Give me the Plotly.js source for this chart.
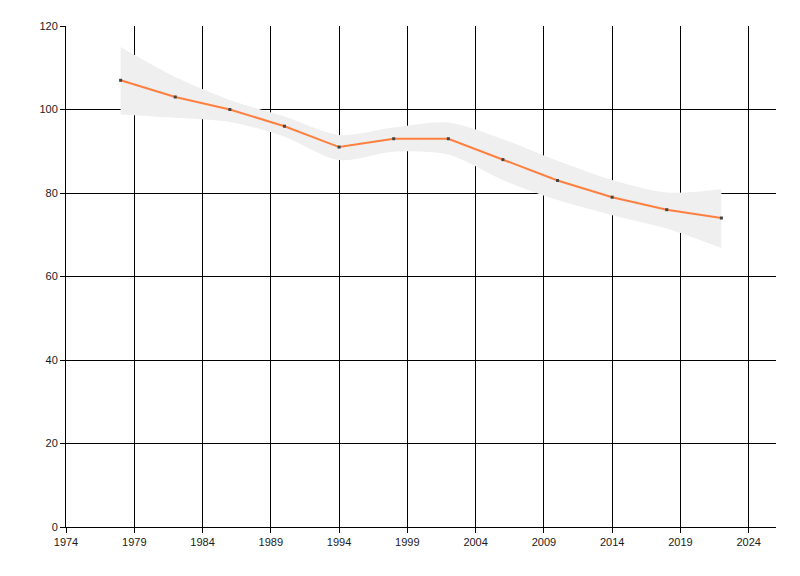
<!DOCTYPE html>
<html>
<head>
<meta charset="utf-8">
<script src="https://cdn.plot.ly/plotly-3.0.1.min.js"></script>
<style>
  html, body { margin: 0; padding: 0; background: #fff; }
  #chart { width: 800px; height: 576px; }
</style>
</head>
<body>
<div id="chart"></div>
<script>
// values
var years = [1978, 1982, 1986, 1990, 1994, 1998, 2002, 2006, 2010, 2014, 2018, 2022];
var values = [107, 103, 100, 96, 91, 93, 93, 88, 83, 79, 76, 74];
var upper = [115, 107.8, 102.3, 98.3, 93.9, 95.7, 96.9, 92.9, 87.7, 83.1, 80.1, 80.9];
var lower = [98.8, 98, 97, 93.5, 87.9, 89.9, 89.2, 83.1, 78.3, 74.7, 71.5, 66.8];

var bandColor = '#efefef';

var traces = [
  {
    x: years, y: lower, type: 'scatter', mode: 'lines',
    line: {width: 0, shape: 'spline', smoothing: 0.8, color: bandColor},
    hoverinfo: 'skip', showlegend: false
  },
  {
    x: years, y: upper, type: 'scatter', mode: 'lines',
    line: {width: 0, shape: 'spline', smoothing: 0.8, color: bandColor},
    fill: 'tonexty', fillcolor: bandColor,
    hoverinfo: 'skip', showlegend: false
  },
  {
    x: years, y: values, type: 'scatter', mode: 'lines+markers',
    line: {width: 2, color: '#ff7f3f'},
    marker: {symbol: 'square', size: 3, color: '#444444'},
    showlegend: false
  }
];

var axisFont = {family: 'Arial, "Liberation Sans", sans-serif', size: 11, color: '#1a1a1a'};

var layout = {
  width: 800, height: 576,
  margin: {l: 66, r: 24, t: 26, b: 49},
  paper_bgcolor: '#ffffff', plot_bgcolor: '#ffffff',
  showlegend: false,
  xaxis: {
    range: [1974, 2026], tick0: 1974, dtick: 5,
    showgrid: true, gridcolor: '#000000', gridwidth: 1,
    zeroline: false, showline: true, linecolor: '#000000', linewidth: 1,
    ticks: 'outside', ticklen: 5, tickcolor: '#000000',
    tickfont: axisFont, fixedrange: true
  },
  yaxis: {
    range: [0, 120], tick0: 0, dtick: 20,
    showgrid: true, gridcolor: '#000000', gridwidth: 1,
    zeroline: false, showline: true, linecolor: '#000000', linewidth: 1,
    ticks: 'outside', ticklen: 5, tickcolor: '#000000',
    tickfont: axisFont, fixedrange: true
  }
};

Plotly.newPlot('chart', traces, layout, {displayModeBar: false, staticPlot: true});
</script>
</body>
</html>
